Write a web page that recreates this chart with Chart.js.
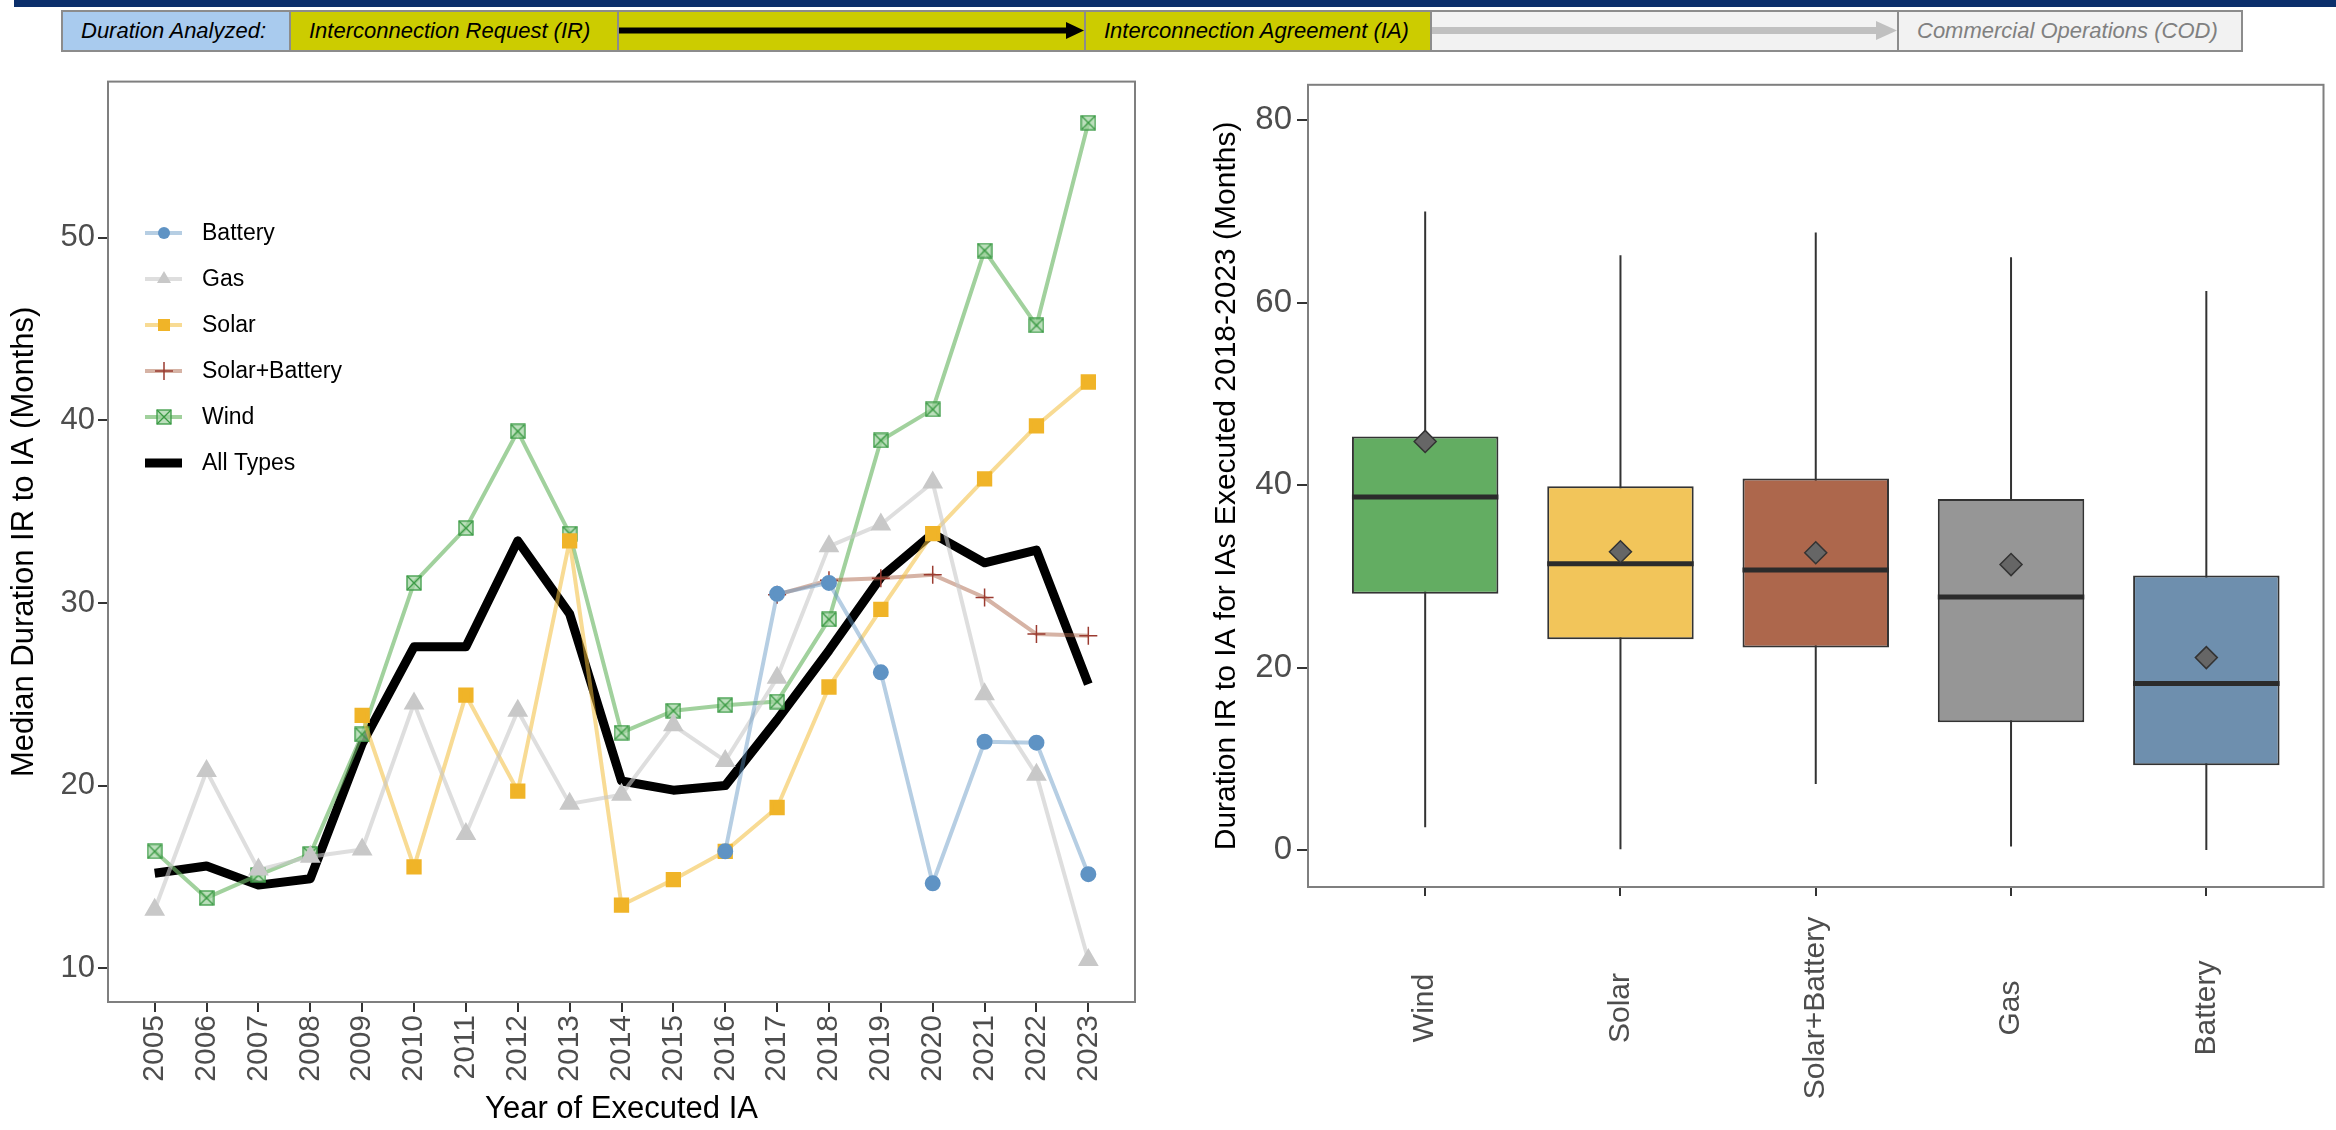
<!DOCTYPE html>
<html>
<head>
<meta charset="utf-8">
<script src="https://cdn.jsdelivr.net/npm/chart.js@4.4.1/dist/chart.umd.min.js"></script>
<style>
html, body { margin: 0; padding: 0; background: #fff; }
#page { position: relative; width: 2336px; height: 1130px; overflow: hidden; font-family: "Liberation Sans", Arial, sans-serif; }
.topbar { position: absolute; left: 14px; top: 0; width: 2322px; height: 7px; background: #0b2f6b; }
.step { position: absolute; top: 10px; height: 42px; box-sizing: border-box; border: 2px solid #8c8c8c;
        font-style: italic; font-size: 22px; line-height: 38px; padding-left: 18px; white-space: nowrap; color: #000; }
.arrow { position: absolute; top: 10px; }
canvas { position: absolute; }
</style>
</head>
<body>
<div id="page">
  <div class="topbar"></div>
  <div class="step" style="left:61px;width:230px;background:#a9cbee;">Duration Analyzed:</div>
  <div class="step" style="left:289px;width:330px;background:#cccc00;">Interconnection Request (IR)</div>
  <div class="step" style="left:617px;width:469px;background:#cccc00;"></div>
  <div class="step" style="left:1084px;width:348px;background:#cccc00;">Interconnection Agreement (IA)</div>
  <div class="step" style="left:1430px;width:469px;background:#f2f2f2;"></div>
  <div class="step" style="left:1897px;width:346px;background:#f2f2f2;color:#808080;">Commercial Operations (COD)</div>
  <svg class="arrow" style="left:617px" width="469" height="42">
    <rect x="2" y="17.5" width="449" height="6" fill="#000"/>
    <polygon points="449,12 467,20.5 449,29" fill="#000"/>
  </svg>
  <svg class="arrow" style="left:1430px" width="469" height="42">
    <rect x="2" y="17" width="446" height="7" fill="#c0c0c0"/>
    <polygon points="446,11 467,20.5 446,30" fill="#c0c0c0"/>
  </svg>
  <canvas id="lineChart" width="1150" height="1070" style="left:0;top:60px;width:1150px;height:1070px"></canvas>
  <canvas id="boxChart" width="1176" height="1070" style="left:1160px;top:60px;width:1176px;height:1070px"></canvas>
</div>
<script>
// ---- left panel: median duration by year ----
const years = [2005, 2006, 2007, 2008, 2009, 2010, 2011, 2012, 2013, 2014,
               2015, 2016, 2017, 2018, 2019, 2020, 2021, 2022, 2023];
const battery = [null, null, null, null, null, null, null, null, null, null,
                 null, 16.4, 30.5, 31.1, 26.2, 14.65, 22.4, 22.35, 15.15];
const gas = [13.2, 20.8, 15.4, 16.1, 16.5, 24.5, 17.35, 24.1, 19.0, 19.5,
             23.3, 21.35, 25.9, 33.1, 34.3, 36.6, 25.0, 20.6, 10.45];
const solar = [null, null, null, null, 23.85, 15.55, 24.95, 19.7, 33.4, 13.45,
               14.85, 16.4, 18.8, 25.4, 29.65, 33.8, 36.8, 39.7, 42.1];
const solarBattery = [null, null, null, null, null, null, null, null, null, null,
                      null, null, 30.45, 31.25, 31.35, 31.55, 30.3, 28.3, 28.2];
const wind = [16.4, 13.85, 15.1, 16.25, 22.8, 31.1, 34.1, 39.4, 33.8, 22.9,
              24.1, 24.4, 24.6, 29.1, 38.9, 40.6, 49.3, 45.2, 56.3];
const allTypes = [15.2, 15.6, 14.55, 14.9, 22.3, 27.6, 27.6, 33.4, 29.4, 20.25,
                  19.75, 20.0, 23.6, 27.4, 31.4, 33.8, 32.2, 32.9, 25.55];
const lineTicks = [10, 20, 30, 40, 50];

// ---- right panel: distribution 2018-2023 ----
const types = ['Wind', 'Solar', 'Solar+Battery', 'Gas', 'Battery'];
const whiskerLow = [2.5, 0.1, 7.25, 0.4, 0.0];
const q1 = [28.1, 23.1, 22.2, 14.0, 9.3];
const medians = [38.7, 31.4, 30.7, 27.75, 18.25];
const q3 = [45.35, 39.9, 40.75, 38.5, 30.1];
const whiskerHigh = [70.0, 65.2, 67.7, 65.0, 61.3];
const means = [44.8, 32.7, 32.6, 31.3, 21.1];
const boxTicks = [0, 20, 40, 60, 80];

const boxColors = ['#63ad62', '#f2c55a', '#ad674c', '#969696', '#6e8fae'];
const boxHalf = 0.375;
const tickGrey = '#4d4d4d';

Chart.defaults.font.family = '"Liberation Sans", Arial, sans-serif';
Chart.defaults.animation = false;

function windMarker(size) {
  const c = document.createElement('canvas');
  c.width = c.height = size;
  const g = c.getContext('2d');
  g.fillStyle = 'rgba(160,210,160,0.7)';
  g.fillRect(1, 1, size - 2, size - 2);
  g.strokeStyle = '#3a9a44';
  g.lineWidth = 1.3;
  g.strokeRect(1, 1, size - 2, size - 2);
  g.beginPath();
  g.moveTo(1, 1); g.lineTo(size - 1, size - 1);
  g.moveTo(size - 1, 1); g.lineTo(1, size - 1);
  g.stroke();
  return c;
}
const windImg = windMarker(16);

const pts = vals => years.map((yr, i) => ({ x: yr, y: vals[i] }));

const frame = {
  id: 'frame',
  afterDraw(chart) {
    const { ctx, chartArea: a } = chart;
    ctx.save();
    ctx.strokeStyle = '#7f7f7f';
    ctx.lineWidth = 2;
    ctx.strokeRect(a.left, a.top, a.right - a.left, a.bottom - a.top);
    ctx.restore();
  }
};

// legend drawn inside the plot, line + marker like the original
const lineLegend = {
  id: 'lineLegend',
  afterDraw(chart) {
    const ctx = chart.ctx;
    const x0 = 145, x1 = 182, xm = 164, tx = 202;
    chart.data.datasets.forEach((ds, i) => {
      const y = 173 + i * 46;
      ctx.save();
      ctx.strokeStyle = ds.borderColor;
      ctx.lineWidth = ds.borderWidth;
      ctx.beginPath(); ctx.moveTo(x0, y); ctx.lineTo(x1, y); ctx.stroke();
      ctx.fillStyle = ds.pointBackgroundColor || ds.borderColor;
      ctx.strokeStyle = ds.pointBorderColor || ds.borderColor;
      const st = ds.pointStyle;
      if (st === 'circle') {
        ctx.beginPath(); ctx.arc(xm, y, 6, 0, Math.PI * 2); ctx.fill();
      } else if (st === 'triangle') {
        ctx.beginPath(); ctx.moveTo(xm, y - 8); ctx.lineTo(xm + 7, y + 4); ctx.lineTo(xm - 7, y + 4); ctx.closePath(); ctx.fill();
      } else if (st === 'rect') {
        ctx.fillRect(xm - 6, y - 6, 12, 12);
      } else if (st === 'cross') {
        ctx.lineWidth = 1.5;
        ctx.beginPath(); ctx.moveTo(xm - 9, y); ctx.lineTo(xm + 9, y); ctx.moveTo(xm, y - 9); ctx.lineTo(xm, y + 9); ctx.stroke();
      } else if (st instanceof HTMLCanvasElement) {
        ctx.drawImage(st, xm - st.width / 2, y - st.height / 2);
      }
      ctx.fillStyle = '#000';
      ctx.font = '23px "Liberation Sans", Arial, sans-serif';
      ctx.textBaseline = 'middle';
      ctx.fillText(ds.label, tx, y + 1);
      ctx.restore();
    });
  }
};

new Chart(document.getElementById('lineChart'), {
  type: 'line',
  data: {
    datasets: [
      { label: 'Battery', data: pts(battery), borderColor: 'rgba(94,146,194,0.45)', borderWidth: 4,
        pointStyle: 'circle', pointRadius: 6, pointBackgroundColor: '#5f93c4', pointBorderColor: '#5f93c4' },
      { label: 'Gas', data: pts(gas), borderColor: 'rgba(200,200,200,0.6)', borderWidth: 4,
        pointStyle: 'triangle', pointRadius: 8, pointBackgroundColor: '#c8c8c8', pointBorderColor: '#c8c8c8' },
      { label: 'Solar', data: pts(solar), borderColor: 'rgba(242,190,60,0.55)', borderWidth: 4,
        pointStyle: 'rect', pointRadius: 8, pointBackgroundColor: '#f0b428', pointBorderColor: '#f0b428' },
      { label: 'Solar+Battery', data: pts(solarBattery), borderColor: 'rgba(173,103,76,0.5)', borderWidth: 4,
        pointStyle: 'cross', pointRadius: 9, pointBorderWidth: 1.5, pointBackgroundColor: '#9b3b30', pointBorderColor: '#9b3b30' },
      { label: 'Wind', data: pts(wind), borderColor: 'rgba(110,185,105,0.65)', borderWidth: 4,
        pointStyle: windImg },
      { label: 'All Types', data: pts(allTypes), borderColor: '#000', borderWidth: 9, pointRadius: 0 }
    ]
  },
  options: {
    responsive: false,
    events: [],
    layout: { padding: { top: 17.5, right: 15, left: 0, bottom: 0 } },
    elements: { line: { borderJoinStyle: 'round', tension: 0 } },
    plugins: { legend: { display: false }, tooltip: { enabled: false } },
    scales: {
      x: {
        type: 'linear', min: 2004.1, max: 2023.9,
        afterBuildTicks: axis => { axis.ticks = years.map(v => ({ value: v })); },
        afterFit: s => { s.height = 128; },
        ticks: { callback: v => String(v), autoSkip: false, minRotation: 90, maxRotation: 90,
                 font: { size: 30 }, color: tickGrey, padding: 3 },
        grid: { drawOnChartArea: false, tickLength: 10, color: '#333', lineWidth: 2 },
        border: { display: false },
        title: { display: true, text: 'Year of Executed IA', color: '#000', font: { size: 31 }, padding: { top: 0, bottom: 2 } }
      },
      y: {
        type: 'linear', min: 8.15, max: 58.55,
        afterBuildTicks: axis => { axis.ticks = lineTicks.map(v => ({ value: v })); },
        afterFit: s => { s.width = 108; },
        ticks: { font: { size: 31 }, color: tickGrey, padding: 3 },
        grid: { drawOnChartArea: false, tickLength: 10, color: '#333', lineWidth: 2 },
        border: { display: false },
        title: { display: true, text: 'Median Duration IR to IA (Months)', color: '#000', font: { size: 31 }, padding: { top: 6, bottom: 0 } }
      }
    }
  },
  plugins: [frame, lineLegend]
});

// category labels centred under each box, rotated like the original
const boxLabels = {
  id: 'boxLabels',
  afterDraw(chart) {
    const ctx = chart.ctx, xs = chart.scales.x;
    ctx.save();
    ctx.fillStyle = tickGrey;
    ctx.font = '30px "Liberation Sans", Arial, sans-serif';
    ctx.textAlign = 'center';
    ctx.textBaseline = 'middle';
    types.forEach((t, i) => {
      ctx.save();
      ctx.translate(xs.getPixelForValue(i), 948);
      ctx.rotate(-Math.PI / 2);
      ctx.fillText(t, 0, 0);
      ctx.restore();
    });
    ctx.restore();
  }
};

const whiskerSets = types.map((t, i) => ({
  type: 'line', order: 4, borderColor: '#333', borderWidth: 2, pointRadius: 0,
  data: [{ x: i, y: whiskerLow[i] }, { x: i, y: whiskerHigh[i] }]
}));
const medianSets = types.map((t, i) => ({
  type: 'line', order: 2, borderColor: '#2b2b2b', borderWidth: 5, pointRadius: 0,
  data: [{ x: i - boxHalf, y: medians[i] }, { x: i + boxHalf, y: medians[i] }]
}));

new Chart(document.getElementById('boxChart'), {
  type: 'bar',
  data: {
    datasets: [
      ...whiskerSets,
      { type: 'bar', order: 3, label: 'IQR',
        data: types.map((t, i) => ({ x: i, y: [q1[i], q3[i]] })),
        backgroundColor: boxColors, borderColor: '#333', borderWidth: 2, borderSkipped: false,
        barPercentage: 0.75, categoryPercentage: 1 },
      ...medianSets,
      { type: 'scatter', order: 1, label: 'Mean',
        data: types.map((t, i) => ({ x: i, y: means[i] })),
        pointStyle: 'rectRot', pointRadius: 11, backgroundColor: '#666', borderColor: '#333', borderWidth: 1.5 }
    ]
  },
  options: {
    responsive: false,
    events: [],
    layout: { padding: { top: 18, right: 1, left: 0, bottom: 0 } },
    plugins: { legend: { display: false }, tooltip: { enabled: false } },
    scales: {
      x: {
        type: 'linear', min: -0.6, max: 4.6, offset: false,
        afterBuildTicks: axis => { axis.ticks = types.map((t, i) => ({ value: i })); },
        afterFit: s => { s.height = 243; },
        ticks: { display: false },
        grid: { drawOnChartArea: false, tickLength: 9, color: '#333', lineWidth: 2, offset: false },
        border: { display: false }
      },
      y: {
        type: 'linear', min: -4.05, max: 83.9,
        afterBuildTicks: axis => { axis.ticks = boxTicks.map(v => ({ value: v })); },
        afterFit: s => { s.width = 148; },
        ticks: { font: { size: 33 }, color: tickGrey, padding: 5 },
        grid: { drawOnChartArea: false, tickLength: 11, color: '#333', lineWidth: 2 },
        border: { display: false },
        title: { display: true, text: 'Duration IR to IA for IAs Executed 2018-2023 (Months)', color: '#000',
                 font: { size: 30 }, padding: { top: 49, bottom: 0 } }
      }
    }
  },
  plugins: [frame, boxLabels]
});
</script>
</body>
</html>
